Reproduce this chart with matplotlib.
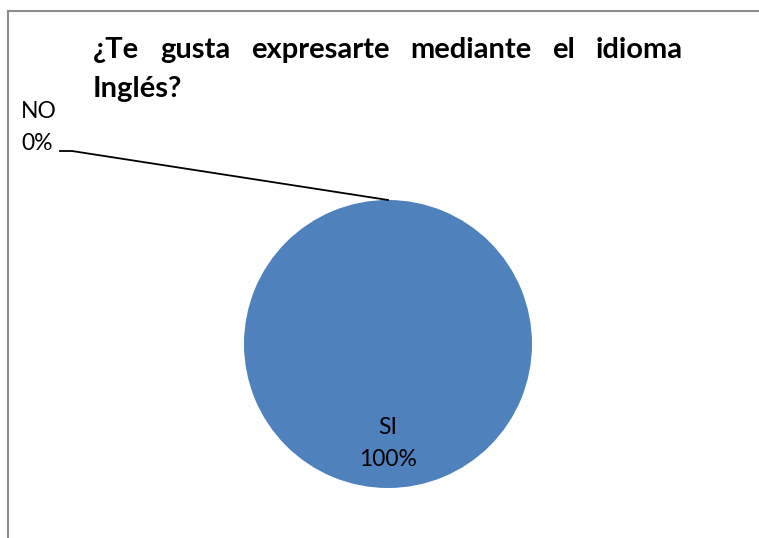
import matplotlib
matplotlib.use("Agg")
import matplotlib.pyplot as plt

plt.rcParams["font.family"] = ["Lato", "DejaVu Sans"]

labels = ["SI", "NO"]
values = [100, 0]
title_lines = ["¿Te gusta expresarte mediante el idioma", "Inglés?"]
color = "#4F81BD"

W, H = 759, 538
fig = plt.figure(figsize=(W / 100, H / 100), dpi=100)
ax = fig.add_axes([0, 0, 1, 1])

# chart frame (only left and top edges visible in the crop)
ax.plot([8, 8, W + 5], [-5, H - 11, H - 11], color="#8c8c8c", lw=1.5,
        solid_joinstyle="miter")

cx, cy, r = 388, H - 344, 144
wedges, _ = ax.pie(values, colors=[color, color], startangle=90,
                   counterclock=False, center=(cx, cy), radius=r,
                   wedgeprops=dict(linewidth=0), frame=True)
ax.set_xlim(0, W)
ax.set_ylim(0, H)
ax.set_aspect("equal")
ax.axis("off")

total = sum(values)
pct = [f"{v / total * 100:.0f}%" for v in values]
fs = 16.5

# SI label inside
ax.text(cx, H - 427, labels[0], ha="center", va="center", fontsize=fs)
ax.text(cx, H - 459, pct[0], ha="center", va="center", fontsize=fs)

# NO label outside with leader line
ax.text(21, H - 112, labels[1], ha="left", va="center", fontsize=fs)
ax.text(21, H - 143, pct[1], ha="left", va="center", fontsize=fs)
ax.plot([60, 72, cx], [H - 151, H - 151, cy + r], color="black", lw=1.3)

# justified bold title
tfs = 21
fig.canvas.draw()
rend = fig.canvas.get_renderer()
words = title_lines[0].split()
x0, x1 = 93, 683
widths = []
for w in words:
    t = ax.text(0, 0, w, fontsize=tfs, fontweight="bold")
    widths.append(t.get_window_extent(rend).width)
    t.remove()
gap = (x1 - x0 - sum(widths)) / (len(words) - 1)
x = x0
for w, wd in zip(words, widths):
    ax.text(x, H - 58, w, fontsize=tfs, fontweight="bold", ha="left",
            va="baseline")
    x += wd + gap
ax.text(x0, H - 97, title_lines[1], fontsize=tfs, fontweight="bold",
        ha="left", va="baseline")

fig.savefig("out.png", dpi=100, facecolor="white")
